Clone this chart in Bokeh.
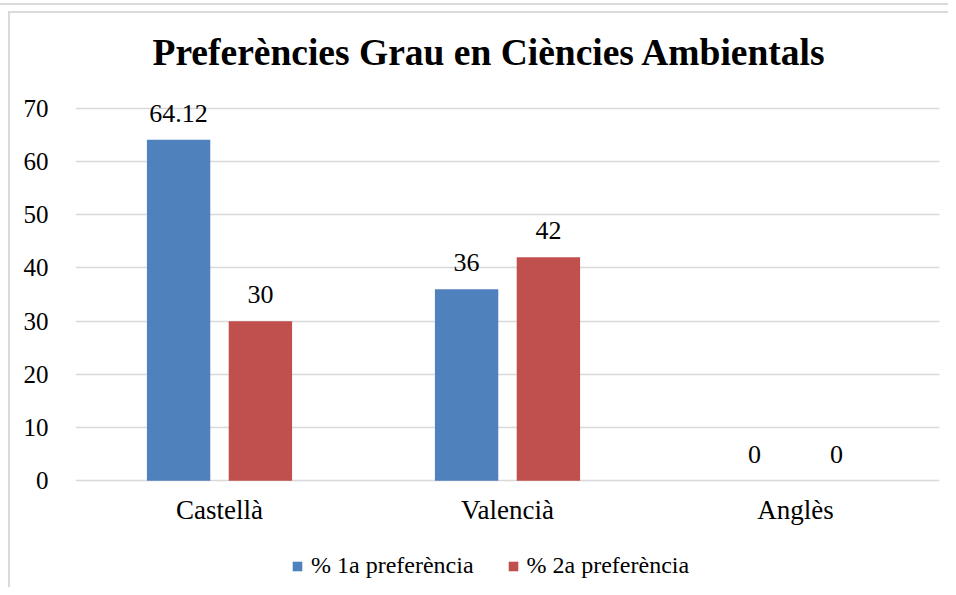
from bokeh.plotting import figure
from bokeh.models import ColumnDataSource, FactorRange, Legend, LegendItem
from bokeh.transform import dodge
from bokeh.embed import file_html
from bokeh.resources import INLINE
from bokeh.core.properties import value

categories = ["Castellà", "Valencià", "Anglès"]
pref1 = [64.12, 36, 0]
pref2 = [30, 42, 0]
labels1 = ["64.12", "36", "0"]
labels2 = ["30", "42", "0"]
series_names = ["% 1a preferència", "% 2a preferència"]
y_ticks = [0, 10, 20, 30, 40, 50, 60, 70]
title_text = "Preferències Grau en Ciències Ambientals"

FONT = "Liberation Serif"
BLUE = "#4F81BD"
RED = "#C0504D"
GRID = "#d9d9d9"

src = ColumnDataSource(dict(cat=categories, p1=pref1, p2=pref2, l1=labels1, l2=labels2,
                            base=[0] * len(categories)))

page_lines = {
    "background-color": "white",
    "background-image": ("linear-gradient(#d9d9d9,#d9d9d9), "
                         "linear-gradient(#d9d9d9,#d9d9d9), "
                         "linear-gradient(#d9d9d9,#d9d9d9)"),
    "background-size": "2px 100%, 100% 2px, 100% 2px",
    "background-position": "8px 12px, 8px 11px, 0px 3px",
    "background-repeat": "no-repeat",
}

p = figure(x_range=FactorRange(factors=categories, range_padding=0),
           y_range=(-20.1, 73.95),
           width=948, height=587, output_backend="svg", toolbar_location=None,
           title=title_text,
           min_border_left=75, min_border_right=9, min_border_top=87,
           min_border_bottom=0, styles=page_lines)
p.border_fill_color = None
p.background_fill_color = None

r1 = p.vbar(x=dodge("cat", -0.142, range=p.x_range), top="p1", width=0.22,
            source=src, fill_color=BLUE, line_color=None)
r2 = p.vbar(x=dodge("cat", 0.142, range=p.x_range), top="p2", width=0.22,
            source=src, fill_color=RED, line_color=None)

p.text(x=dodge("cat", -0.142, range=p.x_range), y="p1", text="l1", source=src,
       text_align="center", text_baseline="bottom", y_offset=-18,
       text_font=value(FONT), text_font_size="26px", text_color="black")
p.text(x=dodge("cat", 0.142, range=p.x_range), y="p2", text="l2", source=src,
       text_align="center", text_baseline="bottom", y_offset=-18,
       text_font=value(FONT), text_font_size="26px", text_color="black")

# category labels below the zero line
p.text(x="cat", y="base", text="cat", source=src,
       text_align="center", text_baseline="top", y_offset=14,
       text_font=value(FONT), text_font_size="27px", text_color="black")

p.title.align = "left"
p.title.offset = 77
p.title.text_font = FONT
p.title.text_font_size = "37.5px"
p.title.text_font_style = "bold"
p.title.text_color = "black"
p.title.standoff = 29

p.outline_line_color = None
p.xgrid.grid_line_color = None
p.ygrid.grid_line_color = GRID
p.ygrid.grid_line_width = 1.5
p.xaxis.visible = False

p.yaxis.ticker = y_ticks
p.yaxis.axis_line_color = None
p.yaxis.major_tick_line_color = None
p.yaxis.minor_tick_line_color = None
p.yaxis.major_label_standoff = 21
p.yaxis.major_label_text_font = FONT
p.yaxis.major_label_text_font_size = "25px"
p.yaxis.major_label_text_color = "black"

legend = Legend(items=[LegendItem(label=series_names[0], renderers=[r1]),
                       LegendItem(label=series_names[1], renderers=[r2])],
                orientation="horizontal", location=(216, 8),
                label_text_font=FONT, label_text_font_size="24px",
                label_text_color="black",
                glyph_width=12, glyph_height=12, spacing=33,
                border_line_color=None, background_fill_alpha=0,
                label_standoff=8, padding=4, margin=0)
p.add_layout(legend)

open("out.html", "w").write(file_html(p, INLINE))
